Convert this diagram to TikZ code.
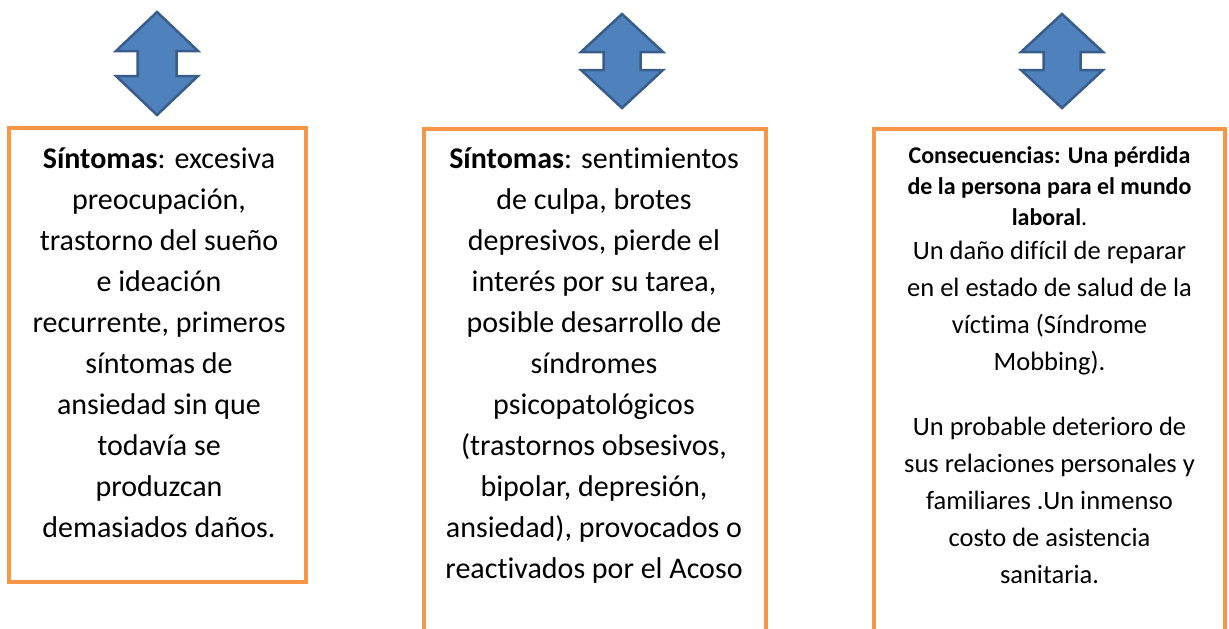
\documentclass[tikz,border=0pt]{standalone}
\usepackage{fontspec}
\setmainfont{Carlito}[Ligatures=NoCommon]
\definecolor{naranja}{HTML}{F79646}
\definecolor{azul}{HTML}{4F81BD}
\definecolor{azulborde}{HTML}{385D8A}

% flecha doble: x, arriba, abajo, alto de la punta, medio ancho del cuerpo
\newcommand{\flechadoble}[5]{%
    \draw[flecha] (#1,#2) -- (#1+41,#2+#4) -- (#1+#5,#2+#4) -- (#1+#5,#3-#4)
        -- (#1+41,#3-#4) -- (#1,#3) -- (#1-41,#3-#4) -- (#1-#5,#3-#4)
        -- (#1-#5,#2+#4) -- (#1-41,#2+#4) -- cycle;}

\begin{document}
\begin{tikzpicture}[%
    x=1pt, y=-1pt,
    caja/.style={rectangle, draw=naranja, line width=4pt, outer sep=0pt, inner sep=0pt},
    texto/.style={anchor=north, inner sep=0pt, align=center, font=\fontsize{30}{41}\selectfont},
    flecha/.style={fill=azul, draw=azulborde, line width=2.5pt}
    ]

    \useasboundingbox (0,0) rectangle (1229,629);

    \flechadoble{157}{12}{115}{39}{19.5}
    \flechadoble{622}{14}{108}{38}{18.5}
    \flechadoble{1062}{14}{108}{38}{18.5}

    \node[caja, minimum width=297pt, minimum height=454pt] (caja1) at (157.5,355) {};
    \node[caja, minimum width=342pt, minimum height=502pt] (caja2) at (595,380) {};
    \node[caja, minimum width=351pt, minimum height=502pt] (caja3) at (1049.5,380) {};

    \node[texto] (sintomas1) at (159,139.3) {\strut\textbf{Síntomas}: excesiva\\
        preocupación,\\ trastorno del sueño\\ e ideación\\ recurrente, primeros\\
        síntomas de\\ ansiedad sin que\\ todavía se\\ produzcan\\ demasiados daños.};

    \node[texto] (sintomas2) at (594,139.3) {\strut\textbf{Síntomas}: sentimientos\\
        de culpa, brotes\\ depresivos, pierde el\\ interés por su tarea,\\
        posible desarrollo de\\ síndromes\\ psicopatológicos\\
        (trastornos obsesivos,\\ bipolar, depresión,\\ ansiedad), provocados o\\
        reactivados por el Acoso};

    \node[texto, font=\fontsize{24}{31}\selectfont] (consecuencias) at (1049.5,141.3)
        {\strut\textbf{Consecuencias: Una pérdida}\\ \textbf{de la persona para el mundo}\\
        \textbf{laboral}.};

    \node[texto, font=\fontsize{26.5}{37}\selectfont] (danos) at (1049.5,233.1)
        {\strut Un daño difícil de reparar\\ en el estado de salud de la\\
        víctima (Síndrome\\ Mobbing).\\[28pt] Un probable deterioro de\\
        sus relaciones personales y\\ familiares .Un inmenso\\ costo de asistencia\\
        sanitaria.};

\end{tikzpicture}
\end{document}
